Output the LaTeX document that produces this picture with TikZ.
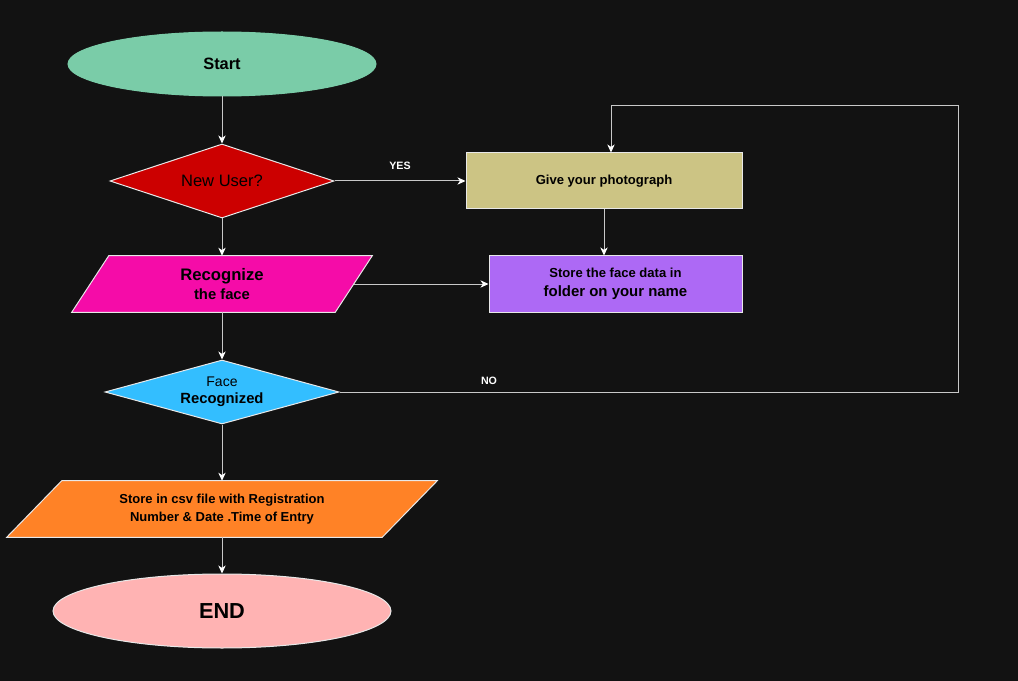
\documentclass[tikz,border=0pt]{standalone}
\usepackage{fontspec}
\setmainfont{Liberation Sans}
\usetikzlibrary{shapes.geometric,arrows.meta,backgrounds,calc}
\definecolor{bgc}{HTML}{121212}
\definecolor{linec}{HTML}{C8C8C8}
\definecolor{startc}{HTML}{7ACCA8}
\definecolor{newc}{HTML}{CC0000}
\definecolor{givec}{HTML}{CCC484}
\definecolor{storec}{HTML}{AD69F5}
\definecolor{recc}{HTML}{F50CA8}
\definecolor{facec}{HTML}{33BEFF}
\definecolor{csvc}{HTML}{FF8226}
\definecolor{endc}{HTML}{FFB3B3}
\definecolor{edgec}{HTML}{E8E8E8}
\tikzset{
  conn/.style={draw=linec, line width=0.75pt, -{Stealth[length=6pt,width=5.5pt,inset=1.8pt,fill=white,color=white]}},
  plain/.style={draw=linec, line width=0.75pt},
  txt/.style={text=black, inner sep=0pt, align=center},
  lab/.style={text=white, font=\bfseries\fontsize{8}{10}\selectfont, inner sep=0pt},
  boxn/.style={txt, rectangle, draw=edgec, line width=0.75pt},
  diam/.style={txt, diamond, aspect=3.2, draw=edgec, line width=0.75pt},
  ell/.style={txt, ellipse, line width=0.75pt},
  para/.style={txt, rectangle, draw=none},
}
\begin{document}
\begin{tikzpicture}[x=0.75pt,y=-0.75pt]
\begin{pgfonlayer}{background}
\fill[bgc] (0,0) rectangle (1018,681);
\end{pgfonlayer}
\useasboundingbox (0,0) rectangle (1018,681);

\node[ell, fill=startc, draw=startc, minimum width=231pt, minimum height=48pt,
  font=\bfseries\fontsize{12.3}{14}\selectfont] (start) at (222,64) {Start};

\node[diam, fill=newc, minimum width=168pt, minimum height=55.5pt,
  font=\fontsize{12.4}{14}\selectfont] (new) at (222,181) {New User?};

\node[boxn, fill=givec, minimum width=207pt, minimum height=42pt,
  font=\bfseries\fontsize{9.8}{12}\selectfont] (give) at (604,181) {Give your photograph};

\node[boxn, fill=storec, minimum width=189.75pt, minimum height=42pt,
  font=\bfseries] (store) at (615.5,284)
  {{\fontsize{9.8}{12}\selectfont Store the face data in}\\[2.5pt]{\fontsize{11.2}{13}\selectfont folder on your name}};

\node[para, minimum width=197.25pt, minimum height=42pt, font=\bfseries] (rec) at (222,284)
  {{\fontsize{12.5}{14}\selectfont Recognize}\\[2pt]{\fontsize{11.1}{13}\selectfont the face}};

\node[diam, fill=facec, minimum width=175.5pt, minimum height=48pt] (face) at (222,392)
  {{\fontsize{10.5}{12}\selectfont Face}\\[1pt]{\bfseries\fontsize{11.1}{13}\selectfont Recognized}};

\node[para, minimum width=281.25pt, minimum height=42pt,
  font=\bfseries\fontsize{9.75}{13}\selectfont] (csv) at (222,509)
  {Store in csv file with Registration\\Number \& Date .Time of Entry};

\node[ell, fill=endc, draw=edgec, minimum width=253.5pt, minimum height=55.5pt,
  font=\bfseries\fontsize{16.3}{18}\selectfont] (end) at (222,611) {END};

\begin{pgfonlayer}{background}
\filldraw[fill=recc, draw=edgec, line width=0.75pt]
  ($(rec.north west)+(18.5,0)$) -- ($(rec.north east)+(18.5,0)$) --
  ($(rec.south east)+(-18.5,0)$) -- ($(rec.south west)+(-18.5,0)$) -- cycle;
\filldraw[fill=csvc, draw=edgec, line width=0.75pt]
  ($(csv.north west)+(27.5,0)$) -- ($(csv.north east)+(27.5,0)$) --
  ($(csv.south east)+(-27.5,0)$) -- ($(csv.south west)+(-27.5,0)$) -- cycle;
\end{pgfonlayer}

\coordinate (n1) at (958,392);
\coordinate (n2) at (958,106);
\coordinate (n3) at (611,106);

\draw[conn] (start) -- (new);
\draw[conn] (new.east) -- (give.west) node[lab, pos=0.5, above=8pt] (yes) {YES};
\draw[conn] (new) -- (rec);
\draw[conn] (give.south) -- (give.south |- store.north);
\draw[conn] (rec.east) -- (store.west);
\draw[conn] (rec) -- (face);
\draw[plain] (face.east) -- (n1) -- (n2) -- (n3);
\draw[conn] (n3) -- (n3 |- give.north);
\node[lab] (no) at (489,381) {NO};
\draw[conn] (face) -- (csv);
\draw[conn] (csv) -- (end);
\end{tikzpicture}
\end{document}
